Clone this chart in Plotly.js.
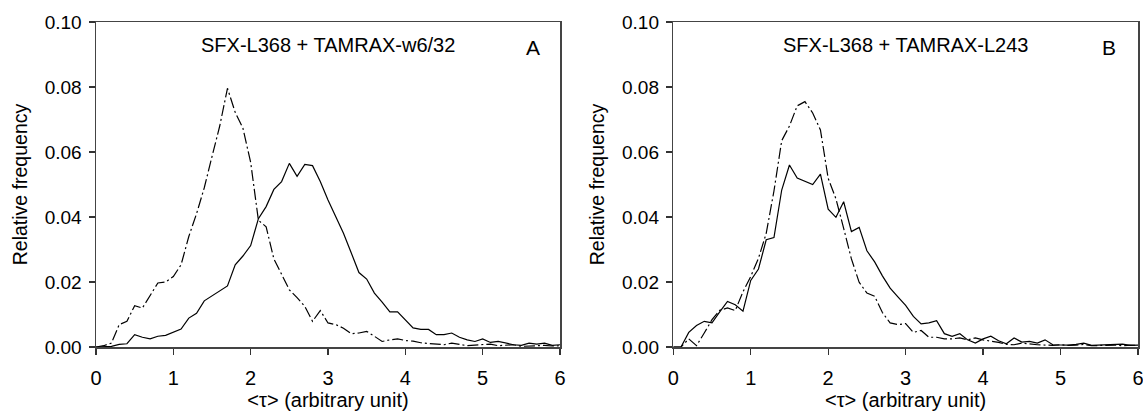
<!DOCTYPE html>
<html>
<head>
<meta charset="utf-8">
<script src="https://cdn.plot.ly/plotly-3.0.1.min.js"></script>
<style>html,body{margin:0;padding:0;background:#fff;}#chart{width:1143px;height:414px;}</style>
</head>
<body>
<div id="chart"></div>
<script>
// x positions: <tau> from 0 to 6 in steps of 0.1
const tau = [0.0,0.1,0.2,0.3,0.4,0.5,0.6,0.7,0.8,0.9,1.0,1.1,1.2,1.3,1.4,1.5,1.6,1.7,1.8,1.9,2.0,2.1,2.2,2.3,2.4,2.5,2.6,2.7,2.8,2.9,3.0,3.1,3.2,3.3,3.4,3.5,3.6,3.7,3.8,3.9,4.0,4.1,4.2,4.3,4.4,4.5,4.6,4.7,4.8,4.9,5.0,5.1,5.2,5.3,5.4,5.5,5.6,5.7,5.8,5.9,6.0];

// Panel A: SFX-L368 + TAMRAX-w6/32
const panelA_solid = [0,0,0.0002,0.0008,0.001,0.0038,0.003,0.0025,0.0033,0.0036,0.0046,0.0055,0.0089,0.0104,0.0142,0.0158,0.0173,0.0188,0.0253,0.028,0.0312,0.0395,0.0432,0.0485,0.0509,0.0565,0.0525,0.0562,0.0558,0.0509,0.0452,0.0401,0.035,0.029,0.0229,0.0209,0.0166,0.0138,0.0108,0.0108,0.0085,0.0059,0.0054,0.0054,0.0038,0.0038,0.0043,0.003,0.0022,0.0017,0.0025,0.0014,0.0017,0.0012,0.0007,0.0005,0.0012,0.0009,0.0012,0.0005,0.0007];
const panelA_dashdot = [0,0.0004,0.0012,0.0069,0.0079,0.0127,0.012,0.016,0.0197,0.02,0.0217,0.0253,0.034,0.041,0.049,0.0586,0.068,0.0796,0.0722,0.0673,0.0568,0.039,0.037,0.0271,0.0225,0.0176,0.0152,0.0125,0.0079,0.0112,0.0074,0.0069,0.0058,0.0041,0.0043,0.0048,0.0033,0.0017,0.0022,0.0025,0.002,0.0018,0.0013,0.0011,0.0009,0.0007,0.0012,0.0008,0.0004,0.0006,0.0007,0.0009,0.0004,0.0006,0.0007,0.0002,0.0003,0.0004,0.0005,0.0003,0.0004];

// Panel B: SFX-L368 + TAMRAX-L243
const panelB_solid = [0,0,0.0045,0.0066,0.0079,0.0074,0.0108,0.014,0.013,0.011,0.0205,0.024,0.033,0.0337,0.0483,0.056,0.052,0.051,0.050,0.0532,0.0424,0.0399,0.0447,0.0355,0.0368,0.0296,0.0262,0.0219,0.0181,0.0154,0.0128,0.0094,0.0071,0.0074,0.0081,0.0041,0.0033,0.0041,0.0022,0.0012,0.0025,0.0033,0.0019,0.001,0.0028,0.0015,0.0017,0.0012,0.0022,0.0007,0.0006,0.0006,0.0008,0.0012,0.0005,0.0006,0.0007,0.0006,0.0009,0.0005,0.0006];
const panelB_dashdot = [0,0,0.0025,0.0004,0.0043,0.0084,0.0113,0.012,0.0112,0.017,0.0217,0.0273,0.035,0.048,0.0635,0.068,0.0742,0.0755,0.072,0.0668,0.0519,0.0456,0.0365,0.0271,0.0199,0.0166,0.0156,0.0106,0.0074,0.0069,0.0072,0.0045,0.0051,0.003,0.003,0.0025,0.0025,0.0028,0.0022,0.0028,0.0022,0.0019,0.0014,0.0008,0.0007,0.0012,0.0009,0.0007,0.0006,0.0005,0.0007,0.0005,0.0006,0.0008,0.0004,0.0005,0.0005,0.0006,0.0004,0.0006,0.0005];

const panelTitles = ["SFX-L368 + TAMRAX-w6/32", "SFX-L368 + TAMRAX-L243"];
const panelLetters = ["A", "B"];
const yTickVals = [0, 0.02, 0.04, 0.06, 0.08, 0.10];
const xTickVals = [0, 1, 2, 3, 4, 5, 6];

const FONT = "Liberation Sans, Arial, Helvetica, sans-serif";
const solidLine = {color: "#000", width: 1.2, dash: "solid"};
const dashLine = {color: "#000", width: 1.2, dash: "11px,3px,2px,3px"};

const traces = [
  {x: tau, y: panelA_solid, type: "scatter", mode: "lines", line: solidLine, xaxis: "x", yaxis: "y"},
  {x: tau, y: panelA_dashdot, type: "scatter", mode: "lines", line: dashLine, xaxis: "x", yaxis: "y"},
  {x: tau, y: panelB_solid, type: "scatter", mode: "lines", line: solidLine, xaxis: "x2", yaxis: "y2"},
  {x: tau, y: panelB_dashdot, type: "scatter", mode: "lines", line: dashLine, xaxis: "x2", yaxis: "y2"}
];

function xAxis(domain, anchor) {
  return {
    domain: domain, anchor: anchor, range: [0, 6],
    tickvals: xTickVals, ticks: "outside", ticklen: 6, tickwidth: 1.3, tickcolor: "#333",
    ticklabelstandoff: 6, ticklabeloverflow: "allow",
    showline: true, linecolor: "#444", linewidth: 1.5, mirror: true,
    showgrid: false, zeroline: false,
    tickfont: {family: FONT, size: 20, color: "#000"},
    title: {text: "&lt;τ&gt; (arbitrary unit)", font: {family: FONT, size: 20, color: "#000"}, standoff: 3}
  };
}
function yAxis(domain, anchor) {
  return {
    domain: domain, anchor: anchor, range: [0, 0.1],
    tickvals: yTickVals, tickformat: ".2f", ticks: "outside", ticklen: 6, tickwidth: 1.3, tickcolor: "#333",
    ticklabelstandoff: 3,
    showline: true, linecolor: "#444", linewidth: 1.5, mirror: true,
    showgrid: false, zeroline: false,
    tickfont: {family: FONT, size: 19, color: "#000"},
    title: {text: "Relative frequency", font: {family: FONT, size: 19.5, color: "#000"}, standoff: 12}
  };
}

const layout = {
  width: 1143, height: 414,
  margin: {l: 96, r: 5, t: 22, b: 67},
  paper_bgcolor: "#fff", plot_bgcolor: "#fff",
  showlegend: false,
  font: {family: FONT, color: "#000"},
  xaxis: xAxis([0, 0.4453], "y"),
  yaxis: yAxis([0, 1], "x"),
  xaxis2: xAxis([0.554, 1], "y2"),
  yaxis2: yAxis([0, 1], "x2"),
  annotations: [
    {xref: "x", yref: "y", x: 3, y: 0.0929, text: panelTitles[0], showarrow: false, font: {family: FONT, size: 20, color: "#000"}},
    {xref: "x", yref: "y", x: 5.65, y: 0.0922, text: panelLetters[0], showarrow: false, font: {family: FONT, size: 21, color: "#000"}},
    {xref: "x2", yref: "y2", x: 3, y: 0.0929, text: panelTitles[1], showarrow: false, font: {family: FONT, size: 20, color: "#000"}},
    {xref: "x2", yref: "y2", x: 5.62, y: 0.0922, text: panelLetters[1], showarrow: false, font: {family: FONT, size: 21, color: "#000"}}
  ]
};

Plotly.newPlot("chart", traces, layout, {displayModeBar: false, staticPlot: true});
</script>
</body>
</html>
